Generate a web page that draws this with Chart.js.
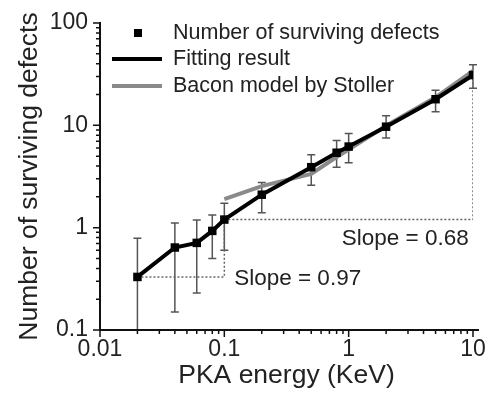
<!DOCTYPE html>
<html>
<head>
<meta charset="utf-8">
<script src="https://cdn.jsdelivr.net/npm/chart.js@4"></script>
<style>
    html, body { margin: 0; padding: 0; background: #fff; }
</style>
</head>
<body>
<canvas id="chart" width="491" height="398"></canvas>
<script>
const energies = [0.02, 0.04, 0.06, 0.08, 0.1, 0.2, 0.5, 0.8, 1, 2, 5, 10];
const defects = [0.33, 0.64, 0.71, 0.93, 1.2, 2.1, 3.9, 5.4, 6.2, 9.7, 18, 31];
const errLow = [0.1, 0.15, 0.23, 0.5, 0.6, 1.4, 2.6, 3.9, 4.3, 7.5, 13.6, 23];
const errHigh = [0.79, 1.11, 1.19, 1.33, 1.73, 2.77, 5.15, 7.1, 8.3, 12.4, 22, 39];

const baconEnergies = [0.1, 0.2, 0.5, 0.8, 1, 2, 5, 10];
const baconDefects = [1.9, 2.55, 3.35, 4.9, 5.8, 9.9, 18.8, 34];

const slopeLowX = [0.02, 0.1, 0.1];
const slopeLowY = [0.33, 0.33, 1.2];
const slopeHighX = [0.1, 10, 10];
const slopeHighY = [1.2, 1.2, 31];

const xTicks = [0.01, 0.1, 1, 10];
const yTicks = [0.1, 1, 10, 100];

const slopeLabels = ['Slope = 0.97', 'Slope = 0.68'];
const slopeLabelX = [0.12, 0.88];
const slopeLabelY = [0.32, 0.78];

const legendLabels = ['Number of surviving defects', 'Fitting result', 'Bacon model by Stoller'];

const FONT = '"Liberation Sans", Arial, sans-serif';
const TEXT = '#222';

function pts(xs, ys) {
    return xs.map((x, i) => ({ x: x, y: ys[i] }));
}

function minorValues(min, max) {
    const out = [];
    for (let e = Math.floor(Math.log10(min)); e <= Math.ceil(Math.log10(max)); e++) {
        for (let k = 1; k <= 9; k++) {
            const v = k * Math.pow(10, e);
            if (v >= min * 0.999 && v <= max * 1.001) out.push({ v: v, major: k === 1 });
        }
    }
    return out;
}

const extras = {
    id: 'extras',
    beforeDatasetsDraw(chart) {
        const ctx = chart.ctx;
        const x = chart.scales.x, y = chart.scales.y;
        // error bars
        ctx.save();
        ctx.strokeStyle = '#555';
        ctx.lineWidth = 1.5;
        energies.forEach((e, i) => {
            const px = x.getPixelForValue(e);
            const top = y.getPixelForValue(errHigh[i]);
            const bot = Math.min(y.getPixelForValue(errLow[i]), chart.chartArea.bottom);
            ctx.beginPath();
            ctx.moveTo(px, top); ctx.lineTo(px, bot);
            ctx.moveTo(px - 4, top); ctx.lineTo(px + 4, top);
            if (bot < chart.chartArea.bottom) {
                ctx.moveTo(px - 4, bot); ctx.lineTo(px + 4, bot);
            }
            ctx.stroke();
        });
        ctx.restore();
    },
    afterDraw(chart) {
        const ctx = chart.ctx;
        const area = chart.chartArea;
        const x = chart.scales.x, y = chart.scales.y;
        ctx.save();
        // axes
        ctx.strokeStyle = '#111';
        ctx.lineWidth = 2;
        ctx.beginPath();
        ctx.moveTo(area.left, area.top - 1);
        ctx.lineTo(area.left, area.bottom);
        ctx.lineTo(area.right + 6, area.bottom);
        ctx.stroke();
        ctx.lineWidth = 1.5;
        ctx.beginPath();
        minorValues(y.min, y.max).forEach(t => {
            const py = y.getPixelForValue(t.v);
            ctx.moveTo(area.left, py);
            ctx.lineTo(area.left - (t.major ? 7 : 4), py);
        });
        minorValues(x.min, x.max).forEach(t => {
            const px = x.getPixelForValue(t.v);
            ctx.moveTo(px, area.bottom);
            ctx.lineTo(px, area.bottom + (t.major ? 7 : 4));
        });
        ctx.stroke();

        // slope annotations
        ctx.fillStyle = TEXT;
        ctx.font = '22.5px ' + FONT;
        ctx.textBaseline = 'middle';
        ctx.textAlign = 'left';
        slopeLabels.forEach((s, i) => {
            ctx.fillText(s, x.getPixelForValue(slopeLabelX[i]), y.getPixelForValue(slopeLabelY[i]));
        });

        // legend
        const ds = chart.data.datasets;
        const lx = area.left + 12, tx = area.left + 73;
        const rows = [33, 59, 86];
        ctx.fillStyle = ds[0].backgroundColor;
        ctx.fillRect(lx + 22, rows[0] - 4, 8, 8);
        [1, 2].forEach(i => {
            ctx.strokeStyle = ds[i].borderColor;
            ctx.lineWidth = ds[i].borderWidth;
            ctx.beginPath();
            ctx.moveTo(lx, rows[i]);
            ctx.lineTo(lx + 50, rows[i]);
            ctx.stroke();
        });
        ctx.font = '21.5px ' + FONT;
        ctx.fillStyle = TEXT;
        legendLabels.forEach((l, i) => ctx.fillText(l, tx, rows[i]));
        ctx.restore();
    }
};

new Chart(document.getElementById('chart'), {
    type: 'scatter',
    data: {
        datasets: [
            {
                label: legendLabels[0],
                data: pts(energies, defects),
                showLine: false,
                pointStyle: 'rect',
                pointRadius: 6,
                backgroundColor: '#000',
                borderColor: '#000',
                borderWidth: 0
            },
            {
                label: legendLabels[1],
                data: pts(energies, defects),
                showLine: true,
                borderColor: '#000',
                borderWidth: 4,
                pointRadius: 0
            },
            {
                label: legendLabels[2],
                data: pts(baconEnergies, baconDefects),
                showLine: true,
                borderColor: '#8a8a8a',
                borderWidth: 4,
                pointRadius: 0
            },
            {
                label: 'slope low',
                data: pts(slopeLowX, slopeLowY),
                showLine: true,
                borderColor: '#666',
                borderWidth: 1.5,
                borderDash: [2, 2],
                pointRadius: 0
            },
            {
                label: 'slope high',
                data: pts(slopeHighX, slopeHighY),
                showLine: true,
                borderColor: '#666',
                borderWidth: 1.5,
                borderDash: [2, 2],
                pointRadius: 0
            }
        ]
    },
    options: {
        responsive: false,
        animation: false,
        devicePixelRatio: 1,
        layout: { padding: { top: 23, right: 18, left: 0, bottom: 0 } },
        plugins: {
            legend: { display: false },
            tooltip: { enabled: false }
        },
        scales: {
            x: {
                type: 'logarithmic',
                min: 0.01,
                max: 10,
                grid: { display: false, drawTicks: false },
                border: { display: false },
                afterBuildTicks: s => { s.ticks = xTicks.map(v => ({ value: v })); },
                afterFit: s => { s.height = 68; s.paddingLeft = 0; s.paddingRight = 0; },
                ticks: {
                    callback: v => String(v),
                    color: TEXT,
                    font: { family: FONT, size: 23 },
                    padding: 6,
                    maxRotation: 0
                },
                title: {
                    display: true,
                    text: 'PKA energy (KeV)',
                    color: TEXT,
                    font: { family: FONT, size: 26.5 },
                    padding: { top: 0, bottom: 6 }
                }
            },
            y: {
                type: 'logarithmic',
                min: 0.1,
                max: 100,
                grid: { display: false, drawTicks: false },
                border: { display: false },
                afterBuildTicks: s => { s.ticks = yTicks.map(v => ({ value: v })); },
                afterFit: s => { s.width = 100; s.paddingTop = 0; s.paddingBottom = 0; },
                ticks: {
                    callback: v => String(v),
                    color: TEXT,
                    font: { family: FONT, size: 23 },
                    padding: 12
                },
                title: {
                    display: true,
                    text: 'Number of surviving defects',
                    color: TEXT,
                    font: { family: FONT, size: 26.5 },
                    padding: { top: 14, bottom: 0 }
                }
            }
        }
    },
    plugins: [extras]
});
</script>
</body>
</html>
